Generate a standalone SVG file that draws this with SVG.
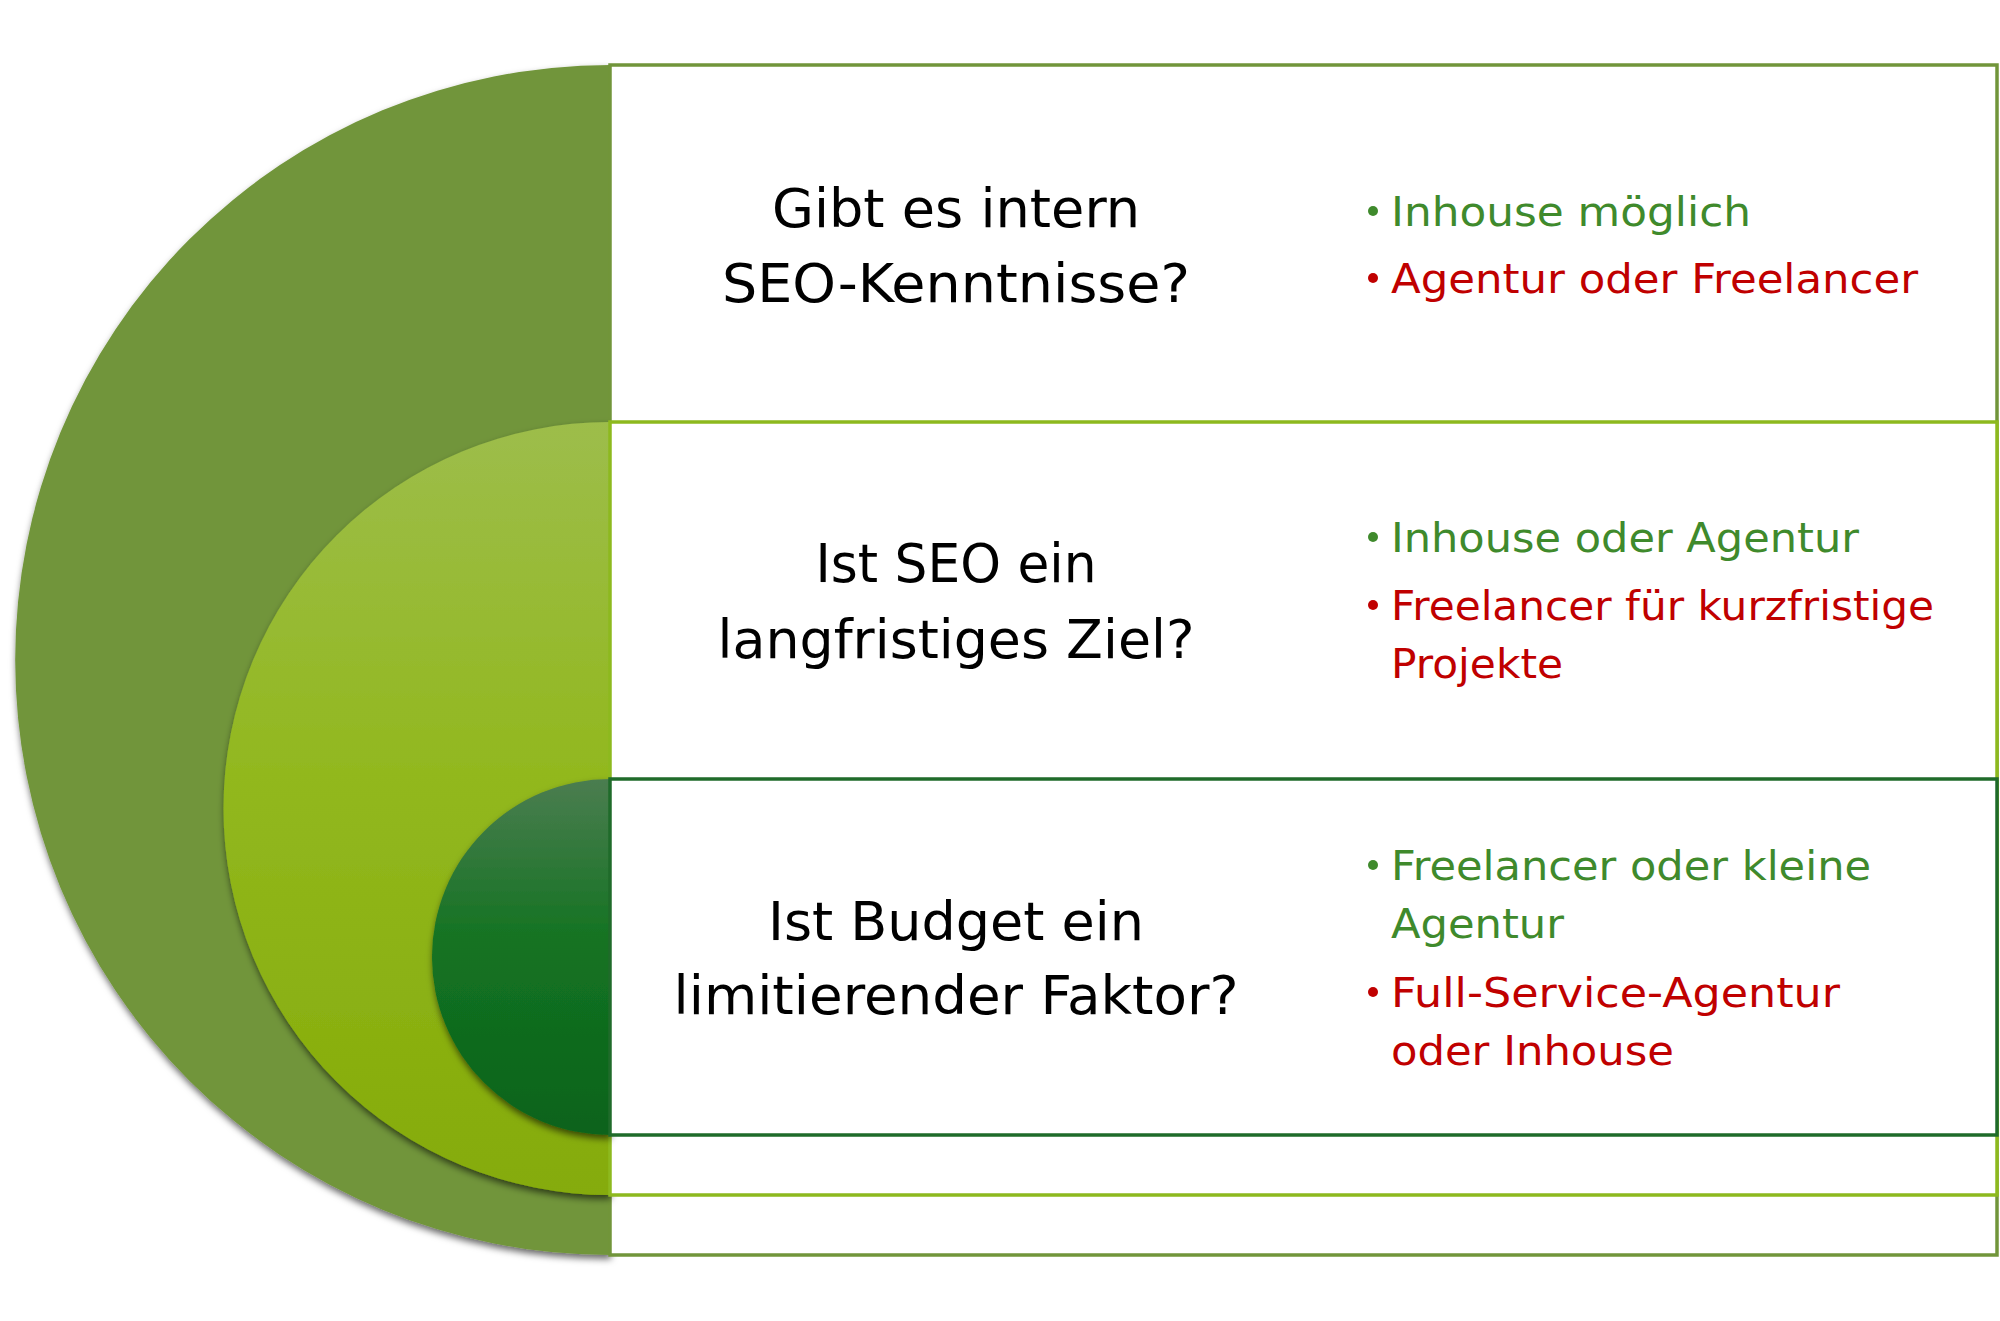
<svg xmlns="http://www.w3.org/2000/svg" width="2000" height="1321" viewBox="0 0 2000 1321">
  <defs>
    <linearGradient id="gMid" x1="0" y1="0" x2="0" y2="1">
      <stop offset="0" stop-color="#9DBD4B"/>
      <stop offset="0.45" stop-color="#92B81F"/>
      <stop offset="1" stop-color="#85AB08"/>
    </linearGradient>
    <linearGradient id="gIn" x1="0" y1="0" x2="0" y2="1">
      <stop offset="0" stop-color="#4B7D50"/>
      <stop offset="0.45" stop-color="#147322"/>
      <stop offset="1" stop-color="#0B631B"/>
    </linearGradient>
    <filter id="sh" x="-10%" y="-10%" width="125%" height="125%">
      <feDropShadow dx="1" dy="4" stdDeviation="3.5" flood-color="#000" flood-opacity="0.6"/>
    </filter>
  </defs>
  <style>
    .q { font-family: "DejaVu Sans", "Liberation Sans", sans-serif; font-size: 53px; fill: #000; text-anchor: middle; }
    .a { font-family: "DejaVu Sans", "Liberation Sans", sans-serif; font-size: 40px; }
    .g { fill: #3F8A2C; }
    .r { fill: #C00000; }
    .box { fill: #FFFFFF; stroke-width: 3.5; }
  </style>
  <rect width="2000" height="1321" fill="#FFFFFF"/>

  <g id="node-budget-outer">
    <path d="M610,65 A595,595 0 0 0 610,1255 Z" fill="#71953A" filter="url(#sh)"/>
    <rect class="box" x="610" y="65" width="1387" height="1190" stroke="#71953A"/>
  </g>
  <g id="node-knowledge-text">
    <text class="q" x="956" y="227" textLength="368" lengthAdjust="spacingAndGlyphs">Gibt es intern</text>
    <text class="q" x="956" y="302" textLength="468" lengthAdjust="spacingAndGlyphs">SEO-Kenntnisse?</text>
    <circle cx="1373" cy="211" r="5" fill="#3F8A2C"/>
    <text class="a g" x="1391" y="226" textLength="360" lengthAdjust="spacingAndGlyphs">Inhouse möglich</text>
    <circle cx="1373" cy="278" r="5" fill="#C00000"/>
    <text class="a r" x="1391" y="293" textLength="527" lengthAdjust="spacingAndGlyphs">Agentur oder Freelancer</text>
  </g>

  <g id="node-longterm">
    <path d="M610,422 A386.5,386.5 0 0 0 610,1195 Z" fill="url(#gMid)" filter="url(#sh)"/>
    <rect class="box" x="610" y="422" width="1387" height="773" stroke="#8DB91E"/>
    <text class="q" x="956" y="582" textLength="281" lengthAdjust="spacingAndGlyphs">Ist SEO ein</text>
    <text class="q" x="956" y="658" textLength="477" lengthAdjust="spacingAndGlyphs">langfristiges Ziel?</text>
    <circle cx="1373" cy="537" r="5" fill="#3F8A2C"/>
    <text class="a g" x="1391" y="552" textLength="468" lengthAdjust="spacingAndGlyphs">Inhouse oder Agentur</text>
    <circle cx="1373" cy="605" r="5" fill="#C00000"/>
    <text class="a r" x="1391" y="620" textLength="543" lengthAdjust="spacingAndGlyphs">Freelancer für kurzfristige</text>
    <text class="a r" x="1391" y="678" textLength="172" lengthAdjust="spacingAndGlyphs">Projekte</text>
  </g>

  <g id="node-budget">
    <path d="M610,779 A178,178 0 0 0 610,1135 Z" fill="url(#gIn)" filter="url(#sh)"/>
    <rect class="box" x="610" y="779" width="1387" height="356" stroke="#1F6B2A"/>
    <text class="q" x="956" y="940" textLength="376" lengthAdjust="spacingAndGlyphs">Ist Budget ein</text>
    <text class="q" x="956" y="1014" textLength="565" lengthAdjust="spacingAndGlyphs">limitierender Faktor?</text>
    <circle cx="1373" cy="865" r="5" fill="#3F8A2C"/>
    <text class="a g" x="1391" y="880" textLength="480" lengthAdjust="spacingAndGlyphs">Freelancer oder kleine</text>
    <text class="a g" x="1391" y="938" textLength="173" lengthAdjust="spacingAndGlyphs">Agentur</text>
    <circle cx="1373" cy="992" r="5" fill="#C00000"/>
    <text class="a r" x="1391" y="1007" textLength="449" lengthAdjust="spacingAndGlyphs">Full-Service-Agentur</text>
    <text class="a r" x="1391" y="1065" textLength="283" lengthAdjust="spacingAndGlyphs">oder Inhouse</text>
  </g>

  <g id="connectors"></g>
</svg>
